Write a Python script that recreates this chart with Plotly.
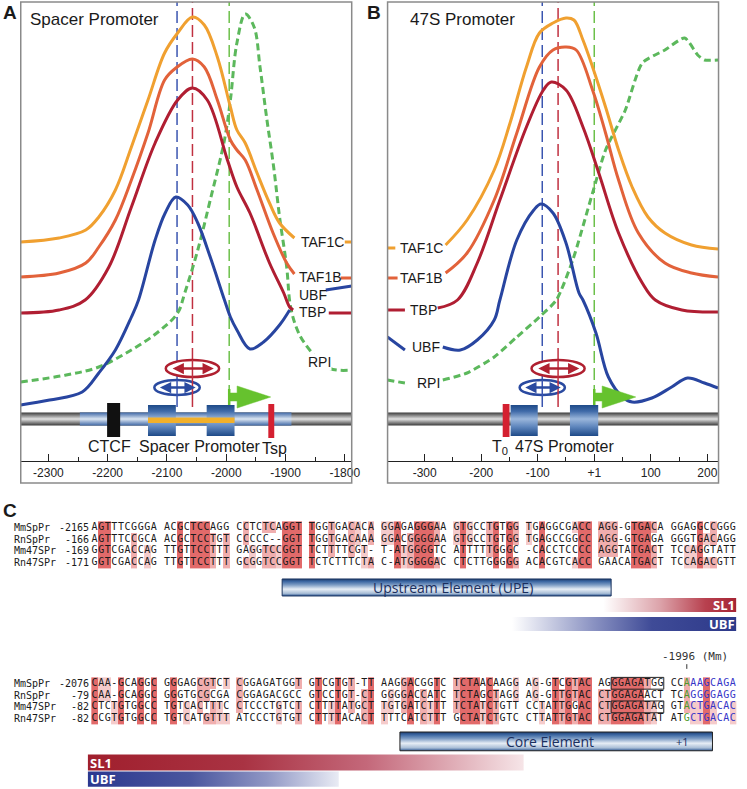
import plotly.graph_objects as go

W, H = 747, 789

# ---------------- Panel A : Spacer promoter (bp position, relative signal) ----------------
A_TAF1C_X = [-2347, -2282, -2237, -2215, -2187, -2160, -2132, -2104, -2082, -2057, -2037, -2015, -1993, -1982, -1968, -1948, -1927, -1910, -1885, None, -1800, -1788]
A_TAF1C_Y = [219, 223, 231, 244, 271, 314, 361, 408, 428, 444, 436, 404, 354, 331, 318, 288, 258, 238, 223, None, 219, 219]
A_TAF1B_X = [-2347, -2282, -2237, -2215, -2187, -2160, -2132, -2104, -2085, -2057, -2037, -2015, -1993, -1982, -1968, -1948, -1921, -1898, -1885, None, -1807, -1788]
A_TAF1B_Y = [184, 188, 198, 214, 241, 281, 328, 381, 393, 402, 394, 361, 321, 311, 301, 271, 228, 198, 187, None, 183, 183]
A_TBP_X = [-2347, -2282, -2238, -2198, -2160, -2120, -2082, -2057, -2032, -1998, -1982, -1960, -1927, -1903, -1893, -1887, None, -1827, -1788]
A_TBP_Y = [148, 151, 161, 194, 254, 318, 361, 373, 361, 301, 274, 248, 198, 168, 154, 151, None, 148, 148]
A_UBF_X = [-2347, -2298, -2243, -2215, -2187, -2160, -2148, -2120, -2103, -2085, -2065, -2048, -2027, -2003, -1993, -1982, -1960, -1937, -1910, -1893, None, -1832, -1788]
A_UBF_Y = [56, 61, 69, 88, 111, 144, 161, 221, 248, 264, 256, 238, 204, 161, 144, 131, 112, 119, 136, 151, None, 171, 175]
A_RPI_X = [-2347, -2270, -2215, -2160, -2115, -2082, -2070, -2048, -2027, -2003, -1993, -1982, -1968, -1953, -1943, -1932, -1920, -1910, -1898, -1892, -1882, -1868, -1827, -1788]
A_RPI_Y = [79, 86, 94, 111, 129, 148, 168, 211, 261, 321, 361, 418, 447, 434, 394, 344, 294, 244, 194, 156, 134, 118, 93, 91]

# ---------------- Panel B : 47S promoter ----------------
B_TAF1C_X = [-366, -352, None, -263, -225, -177, -149, -120, -97, -73, -50, -36, -20, -3, 20, 43, 67, 95, 125, 172, 219]
B_TAF1C_Y = [213, 213, None, 216, 241, 291, 338, 394, 428, 438, 443, 441, 421, 394, 354, 311, 274, 244, 228, 216, 212]
B_TAF1B_X = [-366, -348, None, -263, -225, -177, -137, -97, -73, -50, -32, -3, 20, 43, 78, 125, 172, 219]
B_TAF1B_Y = [183, 183, None, 188, 208, 261, 328, 394, 411, 414, 411, 371, 328, 281, 228, 198, 188, 184]
B_TBP_X = [-366, -335, None, -277, -242, -207, -167, -120, -90, -76, -50, -20, 8, 43, 85, 108, 155, 219]
B_TBP_Y = [151, 151, None, 153, 161, 198, 261, 334, 371, 379, 371, 334, 288, 228, 178, 161, 151, 149]
B_UBF_X = [-366, -335, None, -268, -237, -207, -177, -167, -137, -107, -94, -73, -50, -27, -20, 3, 25, 50, 67, 102, 137, 165, 195, 219]
B_UBF_Y = [124, 111, None, 114, 111, 121, 141, 161, 221, 251, 257, 248, 218, 168, 161, 128, 84, 64, 59, 63, 74, 83, 78, 73]
B_RPI_X = [-366, -335, None, -268, -225, -177, -137, -97, -67, -38, -3, 20, 55, 85, 125, 160, 183, 195, 219]
B_RPI_Y = [81, 78, None, 81, 88, 104, 124, 144, 161, 201, 268, 311, 351, 398, 411, 423, 406, 401, 401]

A_TICKS = [-2300, -2200, -2100, -2000, -1900, -1800]
A_TICKTEXT = ["-2300", "-2200", "-2100", "-2000", "-1900", "-1800"]
A_MINOR = [-2250, -2150, -2050, -1950, -1850]
B_TICKS = [-300, -200, -100, 0, 100, 200]
B_TICKTEXT = ["-300", "-200", "-100", "+1", "100", "200"]
B_MINOR = [-250, -150, -50, 50, 150]

# binding-site centres (UBF, SL1) and initiation site
A_SITES = {"UBF": -2083, "SL1": -2057, "TSS": -1995}
B_SITES = {"UBF": -92, "SL1": -64, "TSS": 0}

# gene elements (start, end)
A_BLUE_REGION = (-2247, -1890)
A_BOXES = [(-2132, -2085), (-2033, -1986)]
A_CTCF = (-2201, -2179)
A_TSP = (-1929, -1919)
B_BOXES = [(-148, -100), (-43, 7)]
B_T0 = (-162, -150)

# ---------------- Panel C : alignment ----------------
NAMES = ["MmSpPr", "RnSpPr", "Mm47SPr", "Rn47SPr"]
START1 = ["-2165", "-166", "-169", "-171"]
SEQ1 = [
    "AGTTTCGGGA ACGCTCCAGG CCTCTCAGGT TGGTGACACA GGAGAGGGAA GTGCCTGTGG TGAGGCGACC AGG-GTGACA GGAGGCCGGG",
    "AGTTTCCGCA ACGCTCCTGT CCCCC--GGT TGGTGACAAA GGACGGGGAA GTGCCTGTGG TGAGCCGGCC AGG-GTGAGA GGGTGACAGG",
    "GGTCGACCAG TTGTTCCTTT GAGGTCCGGT TCTTTTCGT- T-ATGGGGTC ATTTTTGGGC -CACCTCCCC AGGTATGACT TCCAGGTATT",
    "GGTCGACCAG TTGTTCCTTT GCGGTCCGGT TCTCTTTCTA C-ATGGGGAC CTCTTGGGGG ACACGTCACC GAACATGACT TCCAGACGTT",
]
START2 = ["-2076", "-79", "-82", "-82"]
SEQ2 = [
    "CAA-GCAGGC GGGAGCGTCT CGGAGATGGT GTCGTGT-TT AAGGACGGTC TCTAACAAGG AG-GTCGTAC AGGGAGATGG CCAAAGCAGA",
    "CAA-GCAGGC GGGTGCGCGA CGGAGACGCC GTCCTGT-CT GGGGACCATC TCTAGCTAGG AG-GTTGTAC CTGGAGAACT TCAGGGGAGG",
    "CTCTGTGGCC TGTCACTTTC CTCCCTGTCT CTTTTATGCT TGTGATCTTT TCTATCTGTT CCTATTGGAC CTGGAGATAG GTACTGACAC",
    "CCGTGTGGCC TGTCATGTTT ATCCCTGTGT CTTTTACACT TTTCATCTTT GCTATCTGTC CTTATTGTAC CTGGAGATAT ATGCTGACAC",
]
TSS_COL = 90            # +1 column in second block
BOXED_ROWS = [0, 2]     # rows with boxed GGAGAT motif
BOX_COLS = (79, 86)

fig = go.Figure()

C_TAF1C = "#F0A030"
C_TAF1B = "#E2623A"
C_TBP = "#B01E32"
C_UBF = "#2845A0"
C_RPI = "#5CB85C"


def curve(xs, ys, color, xa, ya, dash=None, smooth=1.0):
    fig.add_trace(go.Scatter(x=xs, y=ys, mode="lines", xaxis=xa, yaxis=ya,
                             line=dict(color=color, width=3, shape="spline", smoothing=smooth, dash=dash),
                             connectgaps=False, hoverinfo="skip", showlegend=False))


def grad_rect(x0, x1, y0, y1, cs, xa, ya, gtype="vertical", lcolor=None, lw=0):
    fig.add_trace(go.Scatter(x=[x0, x1, x1, x0, x0], y=[y0, y0, y1, y1, y0], mode="lines",
                             fill="toself", xaxis=xa, yaxis=ya,
                             fillgradient=dict(type=gtype, colorscale=cs,
                                               start=(x0 if gtype == "horizontal" else None),
                                               stop=(x1 if gtype == "horizontal" else None)),
                             line=dict(width=lw, color=lcolor or "rgba(0,0,0,0)"),
                             hoverinfo="skip", showlegend=False))


GRAY_CS = [[0, "#3a3a3a"], [0.5, "#e2e2e2"], [1, "#3a3a3a"]]
LBLUE_CS = [[0, "#3f68a6"], [0.5, "#dce6f2"], [1, "#3f68a6"]]
BOX_CS = [[0, "#1e4a88"], [0.3, "#5f86bd"], [0.55, "#9ab6db"], [0.8, "#3f6aa8"], [1, "#1e4a88"]]

# ---- gene schematic traces (drawn first) ----
grad_rect(-2347, -1788, 35.5, 48.5, GRAY_CS, "x", "y")
grad_rect(A_BLUE_REGION[0], A_BLUE_REGION[1], 35.5, 48.5, LBLUE_CS, "x", "y")
for b0, b1 in A_BOXES:
    grad_rect(b0, b1, 25, 56, BOX_CS, "x", "y")
grad_rect(-366, 220, 35.5, 48.5, GRAY_CS, "x2", "y2")
for b0, b1 in B_BOXES:
    grad_rect(b0, b1, 25, 56, BOX_CS, "x2", "y2")

# ---- curves ----
curve(A_RPI_X, A_RPI_Y, C_RPI, "x", "y", dash="7px,4px")
curve(A_UBF_X, A_UBF_Y, C_UBF, "x", "y")
curve(A_TBP_X, A_TBP_Y, C_TBP, "x", "y")
curve(A_TAF1B_X, A_TAF1B_Y, C_TAF1B, "x", "y")
curve(A_TAF1C_X, A_TAF1C_Y, C_TAF1C, "x", "y")
curve(B_RPI_X, B_RPI_Y, C_RPI, "x2", "y2", dash="7px,4px", smooth=0.6)
curve(B_UBF_X, B_UBF_Y, C_UBF, "x2", "y2")
curve(B_TBP_X, B_TBP_Y, C_TBP, "x2", "y2")
curve(B_TAF1B_X, B_TAF1B_Y, C_TAF1B, "x2", "y2")
curve(B_TAF1C_X, B_TAF1C_Y, C_TAF1C, "x2", "y2")

# ---------------- Panel C traces ----------------
def shade_levels(rows):
    n = len(rows[0])
    z = [[None] * n for _ in rows]
    for j in range(n):
        col = [r[j] for r in rows]
        counts = {}
        for c in col:
            if c in "ACGT":
                counts[c] = counts.get(c, 0) + 1
        if not counts:
            continue
        best = max(counts.values())
        winners = [c for c, v in counts.items() if v == best]
        if best < 2 or len(winners) > 1:
            continue
        lvl = {4: 3, 3: 2, 2: 1}[best]
        for i, c in enumerate(col):
            if c == winners[0]:
                z[i][j] = lvl
    return z


ROW_BASE = [0.0, 13.22]
SHADE_CS = [[0, "#F5CBCB"], [0.333, "#F5CBCB"], [0.334, "#F0AEAE"], [0.666, "#F0AEAE"],
            [0.667, "#E26A6A"], [1, "#E26A6A"]]
for base, seqs in zip(ROW_BASE, [SEQ1, SEQ2]):
    fig.add_trace(go.Heatmap(z=shade_levels(seqs), x=list(range(len(seqs[0]))),
                             y=[base + r for r in range(4)], zmin=1, zmax=3,
                             colorscale=SHADE_CS, showscale=False, hoverinfo="skip",
                             xaxis="x3", yaxis="y3"))

for bi, (base, seqs) in enumerate(zip(ROW_BASE, [SEQ1, SEQ2])):
    for r, s in enumerate(seqs):
        xs, ts, cs = [], [], []
        for j, ch in enumerate(s):
            if ch == " ":
                continue
            xs.append(j)
            ts.append(ch)
            if bi == 1 and j == TSS_COL:
                cs.append("#4E9A2A")
            elif bi == 1 and j > TSS_COL:
                cs.append("#3535C8")
            else:
                cs.append("#1a1a1a")
        fig.add_trace(go.Scatter(x=xs, y=[base + r] * len(xs), text=ts, mode="text",
                                 textposition="middle center",
                                 textfont=dict(family="DejaVu Sans Mono", size=10, color=cs),
                                 xaxis="x3", yaxis="y3", hoverinfo="skip", showlegend=False))

UPE_CS = [[0, "#2a5490"], [0.15, "#a8bdd6"], [0.4, "#e6edf5"], [0.65, "#7d9cc4"], [0.85, "#3d68a3"],
          [1, "#1d3d70"]]
grad_rect(28.5, 78.5, 4.38, 5.82, UPE_CS, "x3", "y3", lcolor="#1d3660", lw=1)
grad_rect(46.4, 93.9, 17.35, 18.94, UPE_CS, "x3", "y3", lcolor="#222222", lw=1)
grad_rect(76.2, 97.5, 5.99, 7.18, [[0, "#ffffff"], [0.4, "#dca3aa"], [0.72, "#b8414f"], [1, "#a01c2c"]],
          "x3", "y3", gtype="horizontal")
grad_rect(62.5, 97.5, 7.6, 8.79, [[0, "#ffffff"], [0.35, "#8a92c2"], [0.6, "#3f4b97"], [1, "#2b3788"]],
          "x3", "y3", gtype="horizontal")
grad_rect(-1.02, 65.2, 19.26, 20.61, [[0, "#a01f2d"], [0.35, "#a93343"], [0.63, "#c4687a"], [1, "#f8eaec"]],
          "x3", "y3", gtype="horizontal")
grad_rect(-1.02, 37.1, 20.69, 21.99, [[0, "#2b388f"], [0.4, "#4a569e"], [0.7, "#8f96c4"], [1, "#eef0f7"]],
          "x3", "y3", gtype="horizontal")

# ---------------- shapes ----------------
shapes = []
ann = []
FONT = "Liberation Sans, Arial, sans-serif"


def px2paper_x(px):
    return px / W


def px2paper_y(py):
    return 1 - py / H


# frames
for x0, x1 in [(21, 356), (392.3, 727.3)]:
    shapes.append(dict(type="rect", xref="paper", yref="paper", x0=px2paper_x(x0), x1=px2paper_x(x1),
                       y0=px2paper_y(483), y1=px2paper_y(2), line=dict(color="#8a8a8a", width=1.5)))

for xa, ya, sites, ell in [("x", "y", A_SITES, (45, 38.3)), ("x2", "y2", B_SITES, (47, 40))]:
    # dashed guide lines
    shapes.append(dict(type="line", xref=xa, yref=ya, x0=sites["UBF"], x1=sites["UBF"], y0=81, y1=459,
                       line=dict(color="#3a55b0", width=1.5, dash="12px,5px"), layer="below"))
    shapes.append(dict(type="line", xref=xa, yref=ya, x0=sites["SL1"], x1=sites["SL1"], y0=101, y1=459,
                       line=dict(color="#c03040", width=1.5, dash="12px,5px"), layer="below"))
    shapes.append(dict(type="line", xref=xa, yref=ya, x0=sites["TSS"], x1=sites["TSS"], y0=64, y1=459,
                       line=dict(color="#6cc04a", width=1.5, dash="12px,5px"), layer="below"))
    # ellipses
    shapes.append(dict(type="circle", xref=xa, yref=ya, x0=sites["SL1"] - ell[0], x1=sites["SL1"] + ell[0],
                       y0=84, y1=101, fillcolor="white", line=dict(color="#B02030", width=2.5)))
    shapes.append(dict(type="circle", xref=xa, yref=ya, x0=sites["UBF"] - ell[1], x1=sites["UBF"] + ell[1],
                       y0=66, y1=81, fillcolor="white", line=dict(color="#2a4aa0", width=2.5)))
    # solid parts of guide lines
    shapes.append(dict(type="line", xref=xa, yref=ya, x0=sites["UBF"], x1=sites["UBF"], y0=54, y1=81,
                       line=dict(color="#3a55b0", width=1.5)))
    shapes.append(dict(type="line", xref=xa, yref=ya, x0=sites["SL1"], x1=sites["SL1"], y0=54, y1=101,
                       line=dict(color="#c03040", width=1.5)))
    # arrows in ellipses
    for key, col, half in [("SL1", "#B02030", ell[0] * 0.8), ("UBF", "#2a4aa0", ell[1] * 0.82)]:
        yc = 92.5 if key == "SL1" else 73.5
        ann.append(dict(x=sites[key] + half, y=yc, ax=sites[key] - half, ay=yc, xref=xa, yref=ya,
                        axref=xa, ayref=ya, text="", showarrow=True, arrowhead=2, arrowsize=0.9,
                        arrowwidth=2.5, arrowcolor=col, arrowside="end+start"))

# green start arrows
unit = {"x": 5 / 3, "x2": 1.748}
for xa, ya, x0 in [("x", "y", A_SITES["TSS"]), ("x2", "y2", B_SITES["TSS"])]:
    u = unit[xa]
    xh = x0 + 8 * u
    xt = x0 + 42 * u
    path = f"M {x0},60 L {xh},60 L {xh},53 L {xt},64 L {xh},75 L {xh},68 L {x0},68 Z"
    shapes.append(dict(type="path", xref=xa, yref=ya, path=path, fillcolor="#66C22E",
                       line=dict(color="#66C22E", width=0.5)))
    shapes.append(dict(type="line", xref=xa, yref=ya, x0=x0, x1=x0, y0=56, y1=72,
                       line=dict(color="#66C22E", width=2.5)))

# gene elements (solid)
shapes.append(dict(type="rect", xref="x", yref="y", x0=A_BOXES[0][0], x1=A_BOXES[1][1], y0=38, y1=43.5,
                   fillcolor="#F2B02A", line=dict(width=0)))
shapes.append(dict(type="rect", xref="x", yref="y", x0=A_CTCF[0], x1=A_CTCF[1], y0=24, y1=58,
                   fillcolor="#111111", line=dict(width=0)))
shapes.append(dict(type="rect", xref="x", yref="y", x0=A_TSP[0], x1=A_TSP[1], y0=23, y1=57,
                   fillcolor="#D42030", line=dict(width=0)))
shapes.append(dict(type="rect", xref="x2", yref="y2", x0=B_T0[0], x1=B_T0[1], y0=24, y1=57,
                   fillcolor="#D42030", line=dict(width=0)))

# panel C boxes & tick
for r in BOXED_ROWS:
    shapes.append(dict(type="rect", xref="x3", yref="y3", x0=BOX_COLS[0] - 0.5, x1=BOX_COLS[1] + 0.5,
                       y0=ROW_BASE[1] + r - 0.5, y1=ROW_BASE[1] + r + 0.5, line=dict(color="#222", width=1)))
shapes.append(dict(type="line", xref="x3", yref="y3", x0=TSS_COL, x1=TSS_COL, y0=11.6, y1=12.0,
                   line=dict(color="#333", width=1)))

# ---------------- annotations ----------------
def text(x, y, t, size, xref="paper", yref="paper", xanchor="center", color="#1a1a1a", family=FONT,
         bold=False, yanchor="middle", bg=None):
    if bold:
        t = "<b>" + t + "</b>"
    d = dict(x=x, y=y, xref=xref, yref=yref, text=t, showarrow=False, xanchor=xanchor,
             yanchor=yanchor, font=dict(size=size, color=color, family=family), borderpad=0)
    if bg:
        d["bgcolor"] = bg
    ann.append(d)


text(px2paper_x(10), px2paper_y(12), "A", 19, bold=True)
text(px2paper_x(379), px2paper_y(12), "B", 19, bold=True)
text(px2paper_x(10), px2paper_y(510), "C", 19, bold=True)
text(px2paper_x(29), px2paper_y(20), "Spacer Promoter", 17, xanchor="left")
text(px2paper_x(414), px2paper_y(20), "47S Promoter", 17, xanchor="left")

# curve labels
for x, y, t in [(-1838, 219, "TAF1C"), (-1841, 184, "TAF1B"), (-1854, 166, "UBF"),
                (-1854, 149, "TBP")]:
    text(x, y, t, 14, xref="x", yref="y")
text(-1843, 99, "RPI", 14, xref="x", yref="y", bg="white")
for x, y, t in [(-305, 213, "TAF1C"), (-305, 183, "TAF1B"), (-302, 151, "TBP"),
                (-297, 114, "UBF"), (-293, 78, "RPI")]:
    text(x, y, t, 14, xref="x2", yref="y2")

# gene labels
text(-2197, 15, "CTCF", 16, xref="x", yref="y")
text(-2045, 15, "Spacer Promoter", 16, xref="x", yref="y")
text(-1919, 13, "Tsp", 16, xref="x", yref="y")
text(-167, 14, "T<sub>0</sub>", 16, xref="x2", yref="y2")
text(-52, 15, "47S Promoter", 16, xref="x2", yref="y2")

# alignment labels
MONO = "DejaVu Sans Mono"
for base, starts in zip(ROW_BASE, [START1, START2]):
    for r in range(4):
        text(-12.4, base + r, NAMES[r], 10, xref="x3", yref="y3", xanchor="left", family=MONO)
        text(-0.65, base + r, starts[r], 10, xref="x3", yref="y3", xanchor="right", family=MONO)

text(54.5, 5.1, "Upstream Element (UPE)", 14, xref="x3", yref="y3", color="#1b2f5e", family="Open Sans")
text(69.2, 18.15, "Core Element", 14, xref="x3", yref="y3", color="#1b2f5e", family="Open Sans")
text(89.3, 18.15, "+1", 11, xref="x3", yref="y3", color="#1b2f5e", family="Open Sans")
text(97.4, 6.6, "SL1", 13, xref="x3", yref="y3", xanchor="right", color="white", family="Open Sans", bold=True)
text(97.4, 8.2, "UBF", 13, xref="x3", yref="y3", xanchor="right", color="white", family="Open Sans", bold=True)
text(-0.8, 19.95, "SL1", 13, xref="x3", yref="y3", xanchor="left", color="white", family="Open Sans", bold=True)
text(-0.8, 21.35, "UBF", 13, xref="x3", yref="y3", xanchor="left", color="white", family="Open Sans", bold=True)
text(91.3, 10.95, "-1996 (Mm)", 11, xref="x3", yref="y3", color="#333", family=MONO)

axis_common = dict(showgrid=False, zeroline=False, fixedrange=True, showline=True, linecolor="#222",
                   linewidth=1.3, ticks="inside", ticklen=7, tickwidth=1.3, tickcolor="#222",
                   tickfont=dict(family=FONT, size=12, color="#222"))

fig.update_layout(
    width=W, height=H, margin=dict(l=0, r=0, t=0, b=0),
    paper_bgcolor="white", plot_bgcolor="rgba(0,0,0,0)", hovermode=False, showlegend=False,
    xaxis=dict(domain=[21 / W, 356 / W], range=[-2346.7, -1788.3], anchor="y",
               tickvals=A_TICKS, ticktext=A_TICKTEXT,
               minor=dict(tickvals=A_MINOR, ticks="inside", ticklen=4, tickwidth=1.3, tickcolor="#222"),
               **axis_common),
    yaxis=dict(domain=[1 - 461 / H, 1 - 2 / H], range=[0, 459], anchor="x", visible=False, fixedrange=True),
    xaxis2=dict(domain=[392.3 / W, 727.3 / W], range=[-365.7, 219.9], anchor="y2",
                tickvals=B_TICKS, ticktext=B_TICKTEXT,
                minor=dict(tickvals=B_MINOR, ticks="inside", ticklen=4, tickwidth=1.3, tickcolor="#222"),
                **axis_common),
    yaxis2=dict(domain=[1 - 461 / H, 1 - 2 / H], range=[0, 459], anchor="x2", visible=False, fixedrange=True),
    xaxis3=dict(domain=[0, 1], range=[-14.38, 97.78], anchor="y3", visible=False, fixedrange=True),
    yaxis3=dict(domain=[0, 1], range=[22.18, -44.69], anchor="x3", visible=False, fixedrange=True),
    shapes=shapes, annotations=ann,
)

fig.write_html("out.html", config={"displayModeBar": False},
               post_script="document.body.style.margin='0';document.body.style.overflow='hidden';")
